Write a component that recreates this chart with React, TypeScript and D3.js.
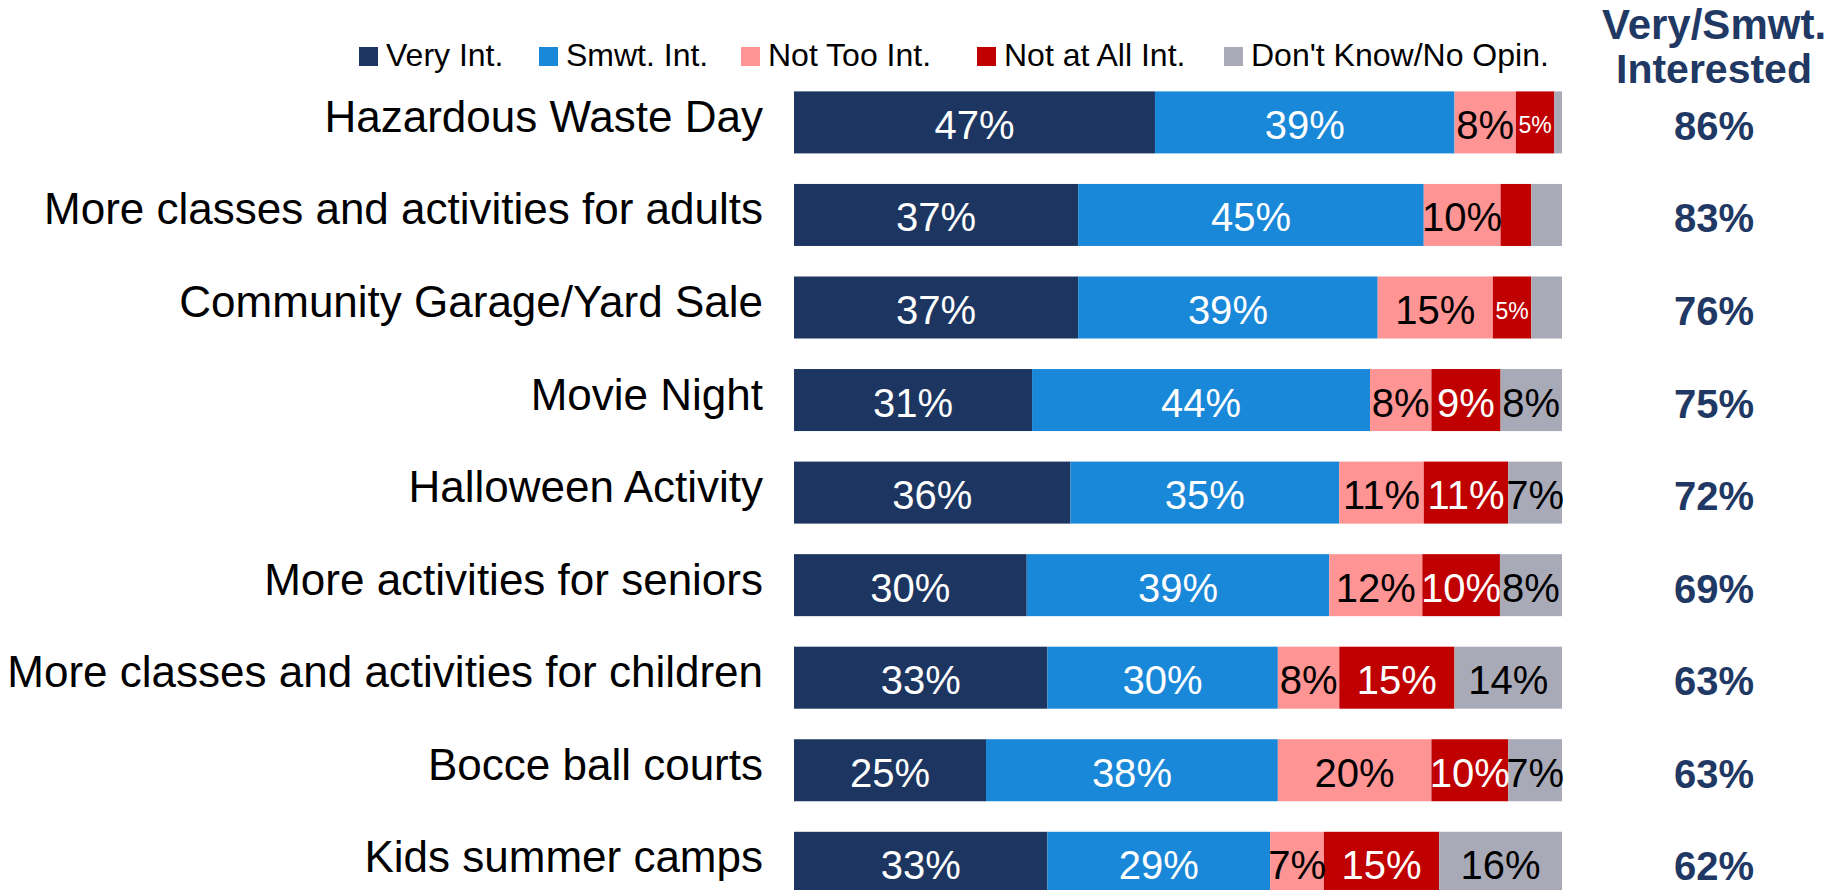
import React from "react";
import * as d3 from "d3";

const categories = [
  "Hazardous Waste Day",
  "More classes and activities for adults",
  "Community Garage/Yard Sale",
  "Movie Night",
  "Halloween Activity",
  "More activities for seniors",
  "More classes and activities for children",
  "Bocce ball courts",
  "Kids summer camps",
];
const seriesNames = ["Very Int.", "Smwt. Int.", "Not Too Int.", "Not at All Int.", "Don't Know/No Opin."];
const veryInt = [47, 37, 37, 31, 36, 30, 33, 25, 33];
const smwtInt = [39, 45, 39, 44, 35, 39, 30, 38, 29];
const notTooInt = [8, 10, 15, 8, 11, 12, 8, 20, 7];
const notAtAllInt = [5, 4, 5, 9, 11, 10, 15, 10, 15];
const dontKnow = [1, 4, 4, 8, 7, 8, 14, 7, 16];
const combined = [86, 83, 76, 75, 72, 69, 63, 63, 62];
const headerLines = ["Very/Smwt.", "Interested"];

const colors = ["#1D3661", "#1A88D8", "#FF9494", "#C00000", "#A9AAB8"];
const textColors = ["#FFFFFF", "#FFFFFF", "#000000", "#FFFFFF", "#000000"];
const NAVY = "#1F3864";
const FONT = "'Liberation Sans', Arial, sans-serif";

const W = 1837;
const H = 890;

export default function App() {
  const keys = seriesNames;
  const rows = categories.map((c, i) => ({
    cat: c,
    [keys[0]]: veryInt[i],
    [keys[1]]: smwtInt[i],
    [keys[2]]: notTooInt[i],
    [keys[3]]: notAtAllInt[i],
    [keys[4]]: dontKnow[i],
  }));
  const stack = d3.stack<any>().keys(keys).offset(d3.stackOffsetExpand);
  const series = stack(rows);

  const x = d3.scaleLinear().domain([0, 1]).range([794, 1562]);
  const y = d3
    .scaleBand<string>()
    .domain(categories)
    .range([91.4, 893.8])
    .paddingInner(0.33)
    .paddingOuter(0);
  const bw = y.bandwidth();

  const legendX = [359, 539, 741, 977, 1224];

  return (
    <svg width={W} height={H} style={{ position: "absolute", left: 0, top: 0, background: "#fff" }}>
      {/* legend */}
      {seriesNames.map((s, i) => (
        <g key={s}>
          <rect x={legendX[i]} y={47} width={19} height={19} fill={colors[i]} />
          <text x={legendX[i] + 27} y={66} fontFamily={FONT} fontSize={32} fill="#000">
            {s}
          </text>
        </g>
      ))}
      {/* header */}
      {headerLines.map((t, i) => (
        <text
          key={t}
          x={1714}
          y={39 + i * 44}
          textAnchor="middle"
          fontFamily={FONT}
          fontWeight="bold"
          fontSize={i === 0 ? 42 : 41}
          fill={NAVY}
        >
          {t}
        </text>
      ))}
      {/* bars */}
      {series.map((s, si) => (
        <g key={s.key}>
          {s.map((d, i) => {
            const cat = categories[i];
            const x0 = x(d[0]);
            const x1 = x(d[1]);
            const yy = y(cat)!;
            return <rect key={cat} x={x0} y={yy} width={x1 - x0} height={bw} fill={colors[si]} />;
          })}
        </g>
      ))}
      {/* value labels */}
      {series.map((s, si) => (
        <g key={s.key + "-lab"}>
          {s.map((d, i) => {
            const cat = categories[i];
            const v = (d.data as any)[s.key] as number;
            if (v < 5) return null;
            const small = v <= 5;
            const cx = (x(d[0]) + x(d[1])) / 2;
            const cy = y(cat)! + bw / 2;
            return (
              <text
                key={cat}
                x={cx}
                y={cy}
                dy={small ? 11 : 16.5}
                textAnchor="middle"
                fontFamily={FONT}
                fontSize={small ? 23 : 40}
                fill={textColors[si]}
              >
                {v}%
              </text>
            );
          })}
        </g>
      ))}
      {/* category labels */}
      {categories.map((c) => (
        <text
          key={c}
          x={763}
          y={y(c)! + bw / 2}
          dy={9.5}
          textAnchor="end"
          fontFamily={FONT}
          fontSize={44}
          fill="#000"
        >
          {c}
        </text>
      ))}
      {/* combined */}
      {categories.map((c, i) => (
        <text
          key={c + "-tot"}
          x={1714}
          y={y(c)! + bw / 2}
          dy={17.5}
          textAnchor="middle"
          fontFamily={FONT}
          fontWeight="bold"
          fontSize={40}
          fill={NAVY}
        >
          {combined[i]}%
        </text>
      ))}
    </svg>
  );
}
